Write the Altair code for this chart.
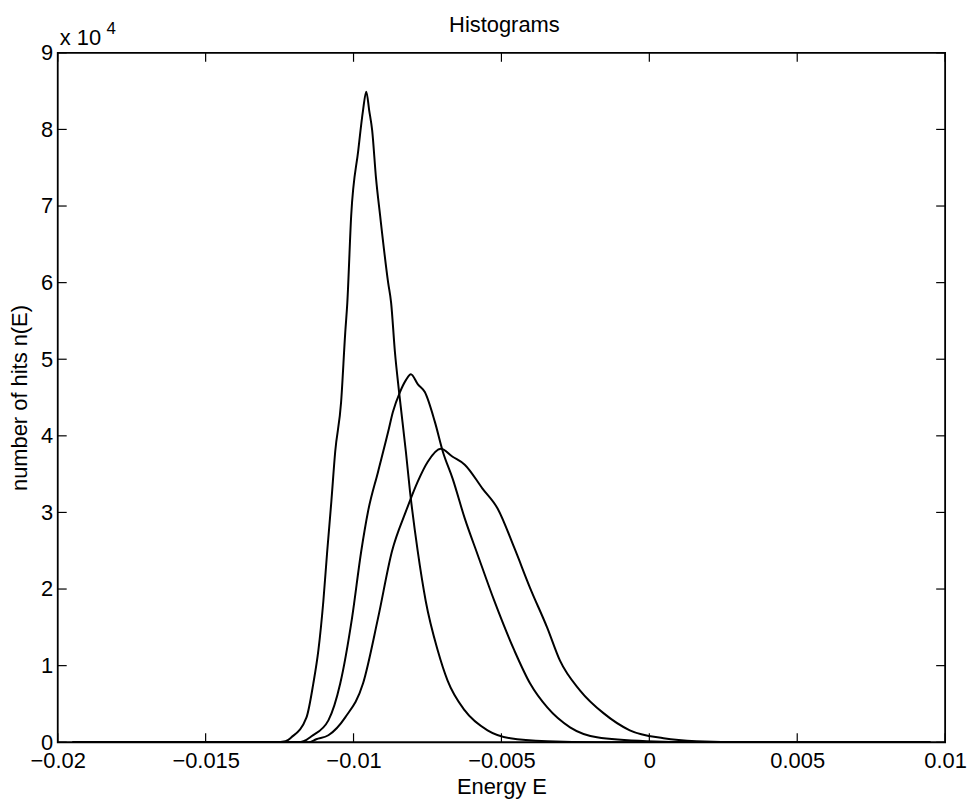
import altair as alt
import pandas as pd

# Energy values (x) and number of hits (y)
E_A = [-0.0195, -0.01263, -0.01230, -0.01210, -0.01159, -0.01136, -0.01119, -0.01102, -0.01089,
       -0.01075, -0.01062, -0.01042, -0.01028, -0.01021, -0.01008, -0.00984, -0.00968,
       -0.00957, -0.00947, -0.00937, -0.00924, -0.00910, -0.00883, -0.00873, -0.00860,
       -0.00846, -0.00823, -0.00809, -0.00783, -0.00756, -0.00715, -0.00682, -0.00624,
       -0.00547, -0.00470, -0.00345, -0.00177, 0.0095]
N_A = [0, 0, 130, 650, 3250, 7660, 11950, 18440, 24935,
       31430, 37920, 44415, 53506, 57403, 68701, 77273, 82467,
       84935, 82467, 79870, 73636, 68701, 60000, 57403, 50909,
       45714, 37922, 32727, 24935, 18442, 11948, 8052, 4156,
       1558, 520, 130, 0, 0]

E_B = [-0.0195, -0.01186, -0.01169, -0.01142, -0.01085, -0.01045, -0.01005, -0.00974, -0.00951,
       -0.00917, -0.00883, -0.00867, -0.00843, -0.00823, -0.00806, -0.00783, -0.00759,
       -0.00725, -0.00698, -0.00665, -0.00624, -0.00581, -0.00524, -0.00456, -0.00403,
       -0.00345, -0.00268, -0.00177, -0.00009, 0.0016, 0.0095]
N_B = [0, 0, 130, 780, 2857, 7662, 16234, 24935, 30130,
       35325, 40519, 43117, 45714, 47273, 48052, 46753, 45714,
       41818, 37922, 34416, 29221, 24545, 18442, 11948, 7662,
       4545, 1948, 649, 130, 0, 0]

E_C = [-0.0195, -0.01152, -0.01126, -0.01085, -0.01028, -0.00968, -0.00917, -0.00870, -0.00823,
       -0.00783, -0.00749, -0.00705, -0.00665, -0.00624, -0.00564, -0.00513, -0.00456,
       -0.00403, -0.00345, -0.00302, -0.00234, -0.00154, -0.00066, 0.00048, 0.00159,
       0.00327, 0.0095]
N_C = [0, 0, 390, 909, 3247, 7662, 16234, 24935, 30130,
       34026, 36623, 38312, 37273, 36234, 33117, 30519, 25325,
       20130, 14935, 10649, 6753, 3766, 1558, 520, 130,
       0, 0]

X_TICKS = [-0.02, -0.015, -0.01, -0.005, 0, 0.005, 0.01]
Y_TICKS = [0, 10000, 20000, 30000, 40000, 50000, 60000, 70000, 80000, 90000]

TITLE = "Histograms"
X_TITLE = "Energy E"
Y_TITLE = "number of hits n(E)"

FONT = "Liberation Sans"
FS = 22
W, H = 892, 693

df = pd.concat([
    pd.DataFrame({"E": E_A, "n": N_A, "s": "A"}),
    pd.DataFrame({"E": E_B, "n": N_B, "s": "B"}),
    pd.DataFrame({"E": E_C, "n": N_C, "s": "C"}),
])

xscale = alt.Scale(domain=[-0.02, 0.01], nice=False, zero=False)
yscale = alt.Scale(domain=[0, 90000], nice=False)

lines = alt.Chart(df).mark_line(color="black", strokeWidth=2, clip=True,
                                interpolate="monotone").encode(
    x=alt.X("E:Q", scale=xscale,
            axis=alt.Axis(values=X_TICKS, labelExpr="format(datum.value, '~g')",
                          title=X_TITLE, ticks=False, domain=False, grid=False,
                          labelPadding=8, titlePadding=6, labelFlush=False,
                          labelFont=FONT, labelFontSize=FS, labelColor="black",
                          titleFont=FONT, titleFontSize=FS, titleColor="black",
                          titleFontWeight="normal")),
    y=alt.Y("n:Q", scale=yscale,
            axis=alt.Axis(values=Y_TICKS, labelExpr="format(datum.value / 10000, 'd')",
                          title=Y_TITLE, ticks=False, domain=False, grid=False,
                          labelPadding=5, titlePadding=9, labelFlush=False,
                          labelFont=FONT, labelFontSize=FS, labelColor="black",
                          titleFont=FONT, titleFontSize=FS, titleColor="black",
                          titleFontWeight="normal")),
    detail="s:N",
)

xt = pd.DataFrame({"E": X_TICKS})
yt = pd.DataFrame({"n": Y_TICKS})

xt_bottom = alt.Chart(xt).mark_rule(color="black", strokeWidth=1.2).encode(
    x=alt.X("E:Q", scale=xscale), y=alt.value(H), y2=alt.value(H - 9))
xt_top = alt.Chart(xt).mark_rule(color="black", strokeWidth=1.2).encode(
    x=alt.X("E:Q", scale=xscale), y=alt.value(0), y2=alt.value(9))
yt_left = alt.Chart(yt).mark_rule(color="black", strokeWidth=1.2).encode(
    y=alt.Y("n:Q", scale=yscale), x=alt.value(0), x2=alt.value(9))
yt_right = alt.Chart(yt).mark_rule(color="black", strokeWidth=1.2).encode(
    y=alt.Y("n:Q", scale=yscale), x=alt.value(W), x2=alt.value(W - 9))

exp_base = alt.Chart(pd.DataFrame({"t": ["x 10"]})).mark_text(
    font=FONT, fontSize=22, align="left", baseline="alphabetic", color="black"
).encode(x=alt.value(2), y=alt.value(-8), text="t:N")
exp_sup = alt.Chart(pd.DataFrame({"t": ["4"]})).mark_text(
    font=FONT, fontSize=17, align="left", baseline="alphabetic", color="black"
).encode(x=alt.value(49), y=alt.value(-19), text="t:N")
title = alt.Chart(pd.DataFrame({"t": [TITLE]})).mark_text(
    font=FONT, fontSize=FS, align="center", baseline="alphabetic", color="black"
).encode(x=alt.value(W / 2 + 3), y=alt.value(-21), text="t:N")

chart = alt.layer(lines, xt_bottom, xt_top, yt_left, yt_right,
                  exp_base, exp_sup, title).properties(
    width=W, height=H,
    background="white",
    autosize=alt.AutoSizeParams(type="none"),
    padding={"left": 50, "top": 43, "right": 24, "bottom": 55},
).configure_view(
    stroke="black", strokeWidth=1.8
)

chart.save("out.html", embed_options={"renderer": "svg", "actions": False})
